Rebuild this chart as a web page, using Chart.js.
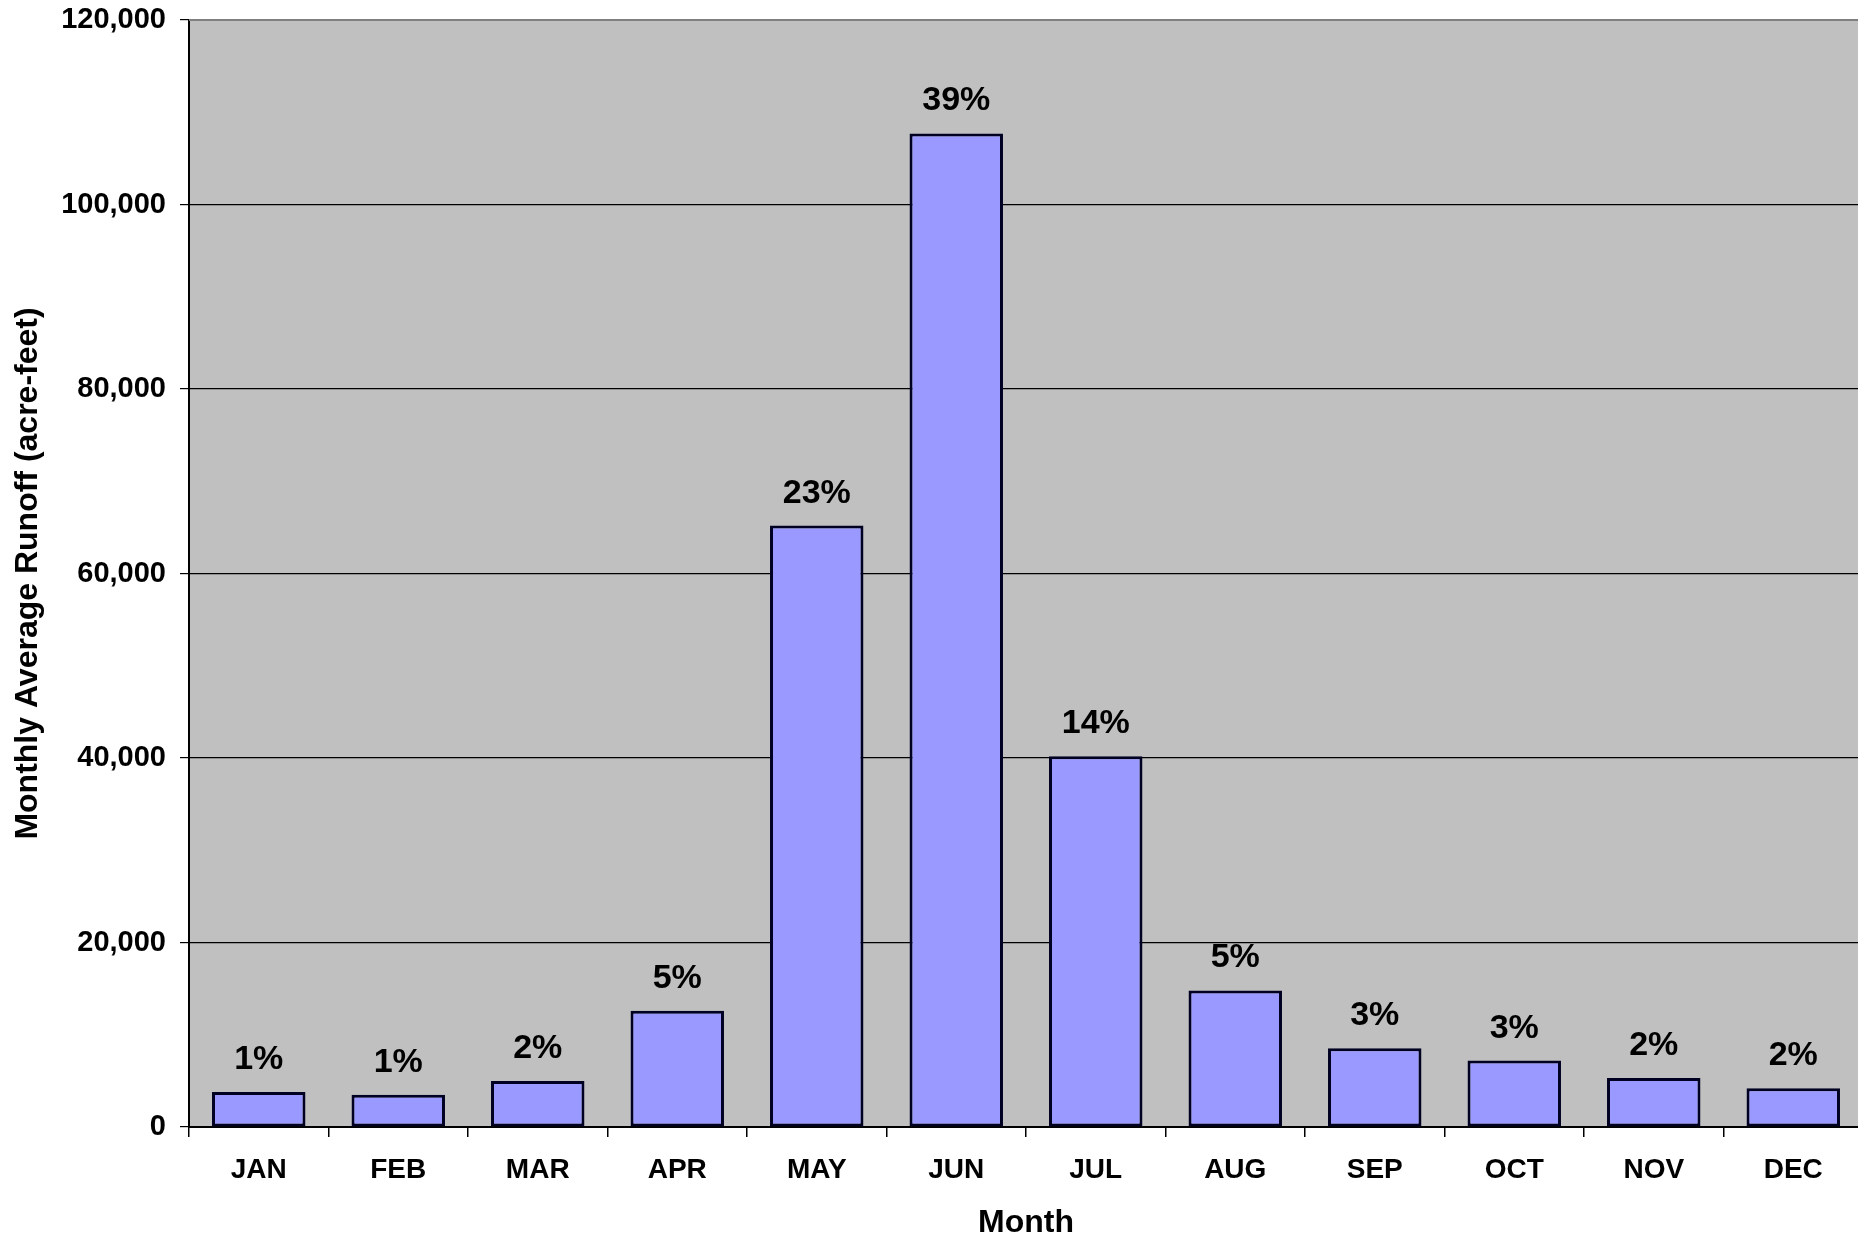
<!DOCTYPE html>
<html>
<head>
<meta charset="utf-8">
<script src="https://cdn.jsdelivr.net/npm/chart.js@4.4.1/dist/chart.umd.min.js"></script>
<style>
  html, body { margin: 0; padding: 0; background: #ffffff; overflow: hidden; }
  #wrap { position: relative; width: 1863px; height: 1237px; }
</style>
</head>
<body>
<div id="wrap"><canvas id="c"></canvas></div>
<script>
const months = ['JAN','FEB','MAR','APR','MAY','JUN','JUL','AUG','SEP','OCT','NOV','DEC'];
const runoff = [3800, 3500, 5000, 12600, 65200, 107700, 40200, 14800, 8550, 7200, 5300, 4200];
const percentLabels = ['1%','1%','2%','5%','23%','39%','14%','5%','3%','3%','2%','2%'];
const yMin = 0;
const yMax = 120000;
const yStep = 20000;

const FONT = '"Liberation Sans", Arial, Helvetica, sans-serif';

const plotBg = {
  id: 'plotBg',
  beforeDraw(chart) {
    const {ctx, chartArea: a} = chart;
    ctx.save();
    ctx.fillStyle = '#C0C0C0';
    ctx.fillRect(a.left, a.top, a.right - a.left, a.bottom - a.top);
    ctx.restore();
  },
  afterDraw(chart) {
    const {ctx, chartArea: a} = chart;
    ctx.save();
    ctx.strokeStyle = '#808080';
    ctx.lineWidth = 2;
    ctx.beginPath();
    ctx.moveTo(a.left, a.top);
    ctx.lineTo(a.right, a.top);
    ctx.stroke();
    ctx.restore();
  }
};

const pctLabels = {
  id: 'pctLabels',
  afterDatasetsDraw(chart) {
    const {ctx} = chart;
    const meta = chart.getDatasetMeta(0);
    ctx.save();
    ctx.font = 'bold 34px ' + FONT;
    ctx.fillStyle = '#000000';
    ctx.textAlign = 'center';
    ctx.textBaseline = 'alphabetic';
    meta.data.forEach((bar, i) => {
      ctx.fillText(percentLabels[i], bar.x, bar.y - 23);
    });
    ctx.restore();
  }
};

new Chart(document.getElementById('c'), {
  type: 'bar',
  data: {
    labels: months,
    datasets: [{
      data: runoff,
      backgroundColor: '#9999FF',
      borderColor: '#000022',
      borderWidth: 3,
      borderSkipped: false,
      categoryPercentage: 1.0,
      barPercentage: 0.67
    }]
  },
  options: {
    responsive: true,
    maintainAspectRatio: false,
    animation: false,
    layout: { padding: { top: 20, left: 0, right: 0, bottom: 0 } },
    plugins: {
      legend: { display: false },
      tooltip: { enabled: false },
      title: { display: false }
    },
    scales: {
      x: {
        type: 'category',
        offset: true,
        afterFit(scale) { scale.height = 110; scale.paddingLeft = 0; scale.paddingRight = 0; },
        grid: {
          display: true,
          drawOnChartArea: false,
          drawTicks: true,
          offset: true,
          tickLength: 10,
          tickColor: '#000000',
          lineWidth: 1.5
        },
        border: { display: true, color: '#000000', width: 2 },
        ticks: {
          color: '#000000',
          font: { family: FONT, size: 28, weight: 'bold' },
          padding: 16,
          maxRotation: 0,
          autoSkip: false
        },
        title: {
          display: true,
          text: 'Month',
          color: '#000000',
          font: { family: FONT, size: 32, weight: 'bold', lineHeight: 1 },
          padding: { top: 0, bottom: -2 }
        }
      },
      y: {
        min: yMin,
        max: yMax,
        afterFit(scale) { scale.width = 189; scale.paddingTop = 0; scale.paddingBottom = 0; },
        grid: {
          display: true,
          drawOnChartArea: true,
          drawTicks: true,
          tickLength: 9,
          color: (ctx) => (ctx.tick && ctx.tick.value === yMax) ? '#808080' : '#000000',
          tickColor: '#000000',
          lineWidth: 1.2
        },
        border: { display: true, color: '#000000', width: 2 },
        ticks: {
          stepSize: yStep,
          color: '#000000',
          font: { family: FONT, size: 29, weight: 'bold' },
          padding: 14,
          callback: (v) => Number(v).toLocaleString('en-US')
        },
        title: {
          display: true,
          text: 'Monthly Average Runoff (acre-feet)',
          color: '#000000',
          font: { family: FONT, size: 32, weight: 'bold', lineHeight: 1 },
          padding: { top: 12, bottom: 0 }
        }
      }
    }
  },
  plugins: [plotBg, pctLabels]
});
</script>
</body>
</html>
